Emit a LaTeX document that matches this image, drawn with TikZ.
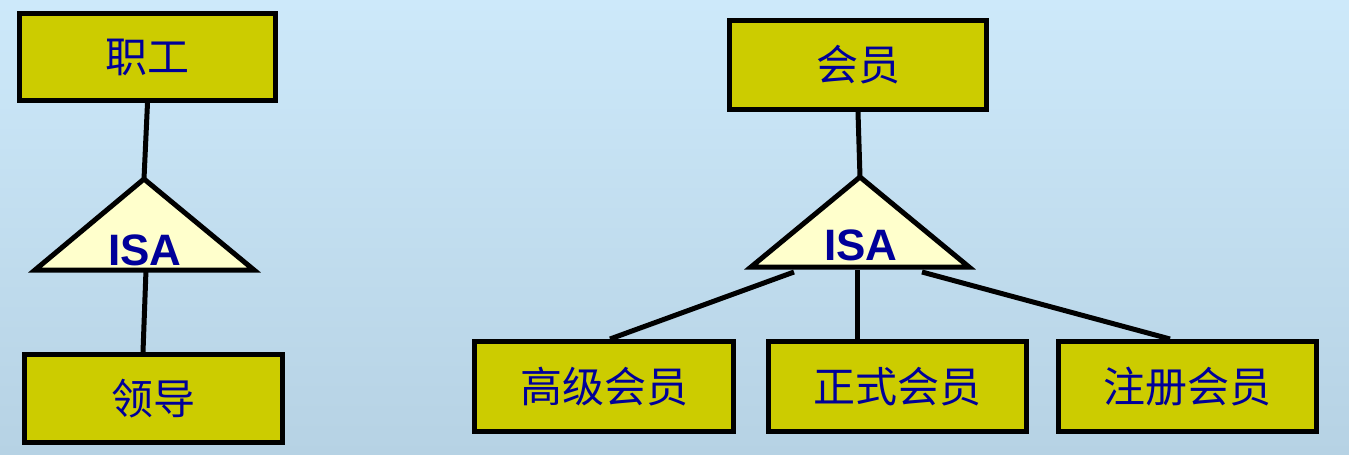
\documentclass[tikz,border=0pt]{standalone}
\usepackage{fontspec}
\newfontfamily\cjk{Noto Sans CJK SC}
\newfontfamily\isafont{Liberation Sans}
\definecolor{bgtop}{RGB}{205,233,250}
\definecolor{bgbot}{RGB}{182,210,228}
\definecolor{boxfill}{RGB}{204,204,0}
\definecolor{trifill}{RGB}{255,255,204}
\definecolor{txtblue}{RGB}{0,0,153}
\tikzset{
  entity/.style={draw=black, line width=5pt, fill=boxfill, inner sep=0pt,
    minimum width=257pt, minimum height=89pt, text=txtblue,
    font=\cjk\fontsize{42}{42}\selectfont},
  isabox/.style={draw=black, line width=5pt, fill=trifill, line join=miter},
  isatext/.style={text=txtblue, inner sep=0pt, anchor=base,
    font=\isafont\bfseries\fontsize{44}{44}\selectfont},
  link/.style={draw=black, line width=5pt}
}
\begin{document}
\begin{tikzpicture}[x=1pt,y=-1pt]
\useasboundingbox (0,0) rectangle (1349,455);
\shade[top color=bgtop, bottom color=bgbot] (0,0) rectangle (1349,455);

% left hierarchy
\node[entity, minimum width=256pt, minimum height=87pt] (zg) at (147.5,57) {职工};
\node[entity, minimum width=258pt, minimum height=88pt] (ld) at (153.5,398.5) {领导};
\coordinate (ta) at (144,179);
\coordinate (tl) at (35,270);
\coordinate (tr) at (254,270);
\path[isabox] (ta) -- (tl) -- (tr) -- cycle;
\node[isatext] (isa1) at (145,265) {ISA};
\coordinate (tb) at (146,270);
\coordinate (ldtop) at (143,352);
\draw[link] (zg.south) -- (ta);
\draw[link] (tb) -- (ldtop);

% right hierarchy
\node[entity] (hy) at (858,65) {会员};
\node[entity, minimum width=259pt, minimum height=90pt] (gj) at (604,386.5) {高级会员};
\node[entity, minimum width=258pt, minimum height=90pt] (zs) at (897.5,386.5) {正式会员};
\node[entity, minimum width=258pt, minimum height=90pt] (zc) at (1187.5,386.5) {注册会员};
\coordinate (ra) at (860,177);
\coordinate (rl) at (751,267);
\coordinate (rr) at (969,267);
\path[isabox] (ra) -- (rl) -- (rr) -- cycle;
\node[isatext] (isa2) at (861,260) {ISA};
\coordinate (b1) at (794,272);
\coordinate (b2) at (857,270);
\coordinate (b3) at (922,272);
\coordinate (c1) at (610,339);
\coordinate (c2) at (857,339);
\coordinate (c3) at (1170,339);
\draw[link] (hy.south) -- (ra);
\draw[link] (b1) -- (c1);
\draw[link] (b2) -- (c2);
\draw[link] (b3) -- (c3);
\end{tikzpicture}
\end{document}
